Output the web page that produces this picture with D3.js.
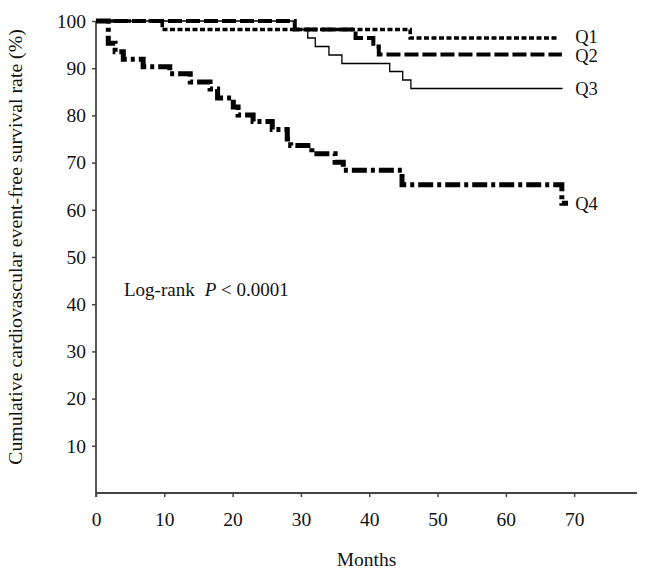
<!DOCTYPE html>
<html><head><meta charset="utf-8">
<script src="https://cdn.jsdelivr.net/npm/d3@7"></script>
<style>
html,body{margin:0;padding:0;background:#fff;}
svg{display:block;}
text{font-family:"Liberation Serif","Times New Roman",serif;fill:#111;}
</style></head>
<body>
<svg id="chart" width="652" height="570"></svg>
<script>
// ---- data (months, survival %) ----
const q1Months = [0, 9.7, 46.0, 67.6];
const q1Surv   = [100, 98.2, 96.4, 96.4];
const q2Months = [0, 29.1, 38.0, 40.6, 41.4, 68.2];
const q2Surv   = [100, 98.2, 96.4, 94.6, 92.9, 92.9];
const q3Months = [0, 29.1, 31.0, 32.1, 34.1, 36.0, 43.0, 44.9, 46.1, 68.3];
const q3Surv   = [100, 98.2, 96.4, 94.6, 92.8, 91.0, 89.3, 87.5, 85.7, 85.7];
const q4Months = [0, 1.8, 2.8, 4.0, 6.9, 10.8, 13.8, 16.7, 17.8, 20.1, 20.8, 23.0, 25.8, 28.0, 28.5, 31.6, 35.0, 36.2, 44.8, 68.2, 69.1];
const q4Surv   = [100, 95.3, 93.5, 91.9, 90.3, 88.8, 87.1, 85.6, 83.7, 81.8, 80.1, 78.7, 77.0, 75.0, 73.6, 71.9, 70.1, 68.4, 65.3, 61.4, 61.4];
const seriesNames = ["Q1", "Q2", "Q3", "Q4"];
const xTicks = [0, 10, 20, 30, 40, 50, 60, 70];
const yTicks = [10, 20, 30, 40, 50, 60, 70, 80, 90, 100];

const svg = d3.select("#chart");
const x = d3.scaleLinear().domain([0, 79.2]).range([96, 637]);
const y = d3.scaleLinear().domain([0, 100]).range([493, 21]);
const axisColor = "#444";

// axes
const gx = svg.append("g").attr("transform", `translate(0,${y(0)})`)
  .call(d3.axisBottom(x).tickValues(xTicks).tickSize(4).tickPadding(15).tickFormat(d3.format("d")));
const gy = svg.append("g").attr("transform", `translate(${x(0)},0)`)
  .call(d3.axisLeft(y).tickValues(yTicks).tickSize(4).tickPadding(6).tickFormat(d3.format("d")));
[gx, gy].forEach(g => {
  g.select(".domain").attr("stroke", axisColor).attr("stroke-width", 1.8);
  g.selectAll(".tick line").attr("stroke", axisColor).attr("stroke-width", 1.5);
  g.selectAll(".tick text").attr("font-size", 19.5).attr("font-family", "Liberation Serif, serif").attr("fill", "#111");
});
gx.select(".domain").attr("d", `M${x(0)},0H${x(79.2)}`);
gy.select(".domain").attr("d", `M0,${y(100)}V${y(0) + 4}`);

// curves
const series = [
  {name: seriesNames[0], months: q1Months, surv: q1Surv, width: 3.6, dash: "5,2.5", dy: -1.5},
  {name: seriesNames[1], months: q2Months, surv: q2Surv, width: 4, dash: "14,4", dy: 1.5},
  {name: seriesNames[2], months: q3Months, surv: q3Surv, width: 1.3, dash: null, dy: 0},
  {name: seriesNames[3], months: q4Months, surv: q4Surv, width: 5, dash: "15,4,4,4", dy: 1}
];
const line = d3.line().x(d => x(d[0])).y(d => y(d[1])).curve(d3.curveStepAfter);
series.forEach(s => {
  const pts = s.months.map((m, i) => [m, s.surv[i]]);
  svg.append("path").datum(pts).attr("d", line)
    .attr("fill", "none").attr("stroke", "#000")
    .attr("stroke-width", s.width)
    .attr("stroke-dasharray", s.dash)
    .attr("stroke-linejoin", "miter").attr("stroke-linecap", "butt");
  const last = s.surv[s.surv.length - 1];
  svg.append("text").attr("x", x(70) + 1).attr("y", y(last) + s.dy)
    .attr("dy", "0.33em").attr("font-size", 18.5).text(s.name);
});

// annotation
const ann = svg.append("text").attr("x", 124).attr("y", 296).attr("font-size", 19);
ann.append("tspan").text("Log-rank");
ann.append("tspan").attr("dx", 10).attr("font-style", "italic").text("P");
ann.append("tspan").text(" < 0.0001");

// axis titles
svg.append("text").attr("x", (x(0) + x(79.2)) / 2).attr("y", 566)
  .attr("text-anchor", "middle").attr("font-size", 19.5).text("Months");
svg.append("text").attr("transform", `translate(22,${(y(0) + y(100)) / 2 - 10}) rotate(-90)`)
  .attr("text-anchor", "middle").attr("font-size", 19.8)
  .text("Cumulative cardiovascular event-free survival rate (%)");
</script>
</body></html>
